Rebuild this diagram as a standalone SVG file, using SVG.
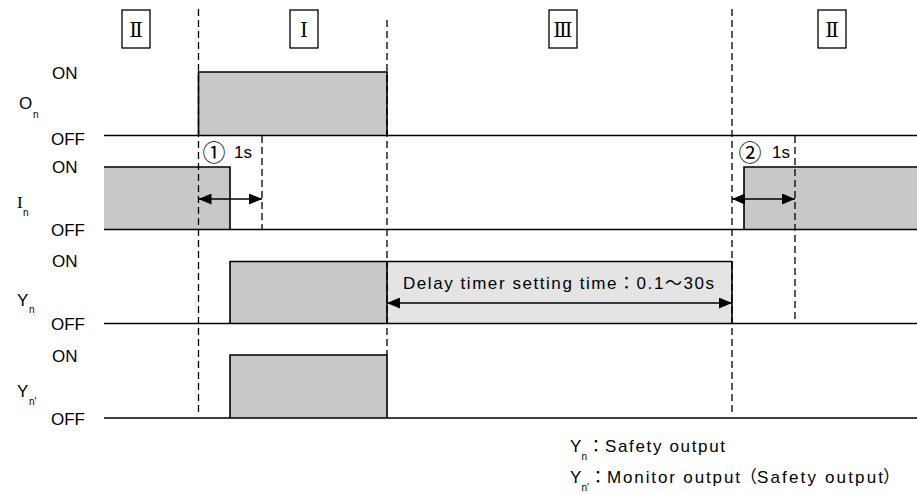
<svg xmlns="http://www.w3.org/2000/svg" width="917" height="494" viewBox="0 0 917 494">
<defs>
<style>
.bg{fill:#ffffff}
.on{fill:#c8c8c8;stroke:none}
.dl{fill:#e4e4e4;stroke:none}
.sig{fill:none;stroke:#000;stroke-width:1.6}
.base{fill:none;stroke:#000;stroke-width:1.6}
.dash{fill:none;stroke:#000;stroke-width:1.3;stroke-dasharray:7 4}
.arr{fill:none;stroke:#000;stroke-width:1.4;marker-start:url(#ah);marker-end:url(#ah)}
.box{fill:#fff;stroke:#000;stroke-width:1.3}
.t{font-family:"Liberation Sans",Arial,sans-serif;font-size:17px;fill:#000}
.lab{font-family:"Liberation Sans",Arial,sans-serif;font-size:17px;fill:#000}
.sub{font-size:10px}
.rom{font-family:"DejaVu Serif","Noto Sans CJK JP",serif;font-size:20px;fill:#000}
.cjk{font-family:"Noto Sans CJK JP",sans-serif}
.circ{font-family:"Noto Sans CJK JP",sans-serif;font-size:23px;fill:#000}
</style>
<marker id="ah" viewBox="0 0 13 11" refX="13" refY="5.5" markerWidth="13" markerHeight="11" markerUnits="userSpaceOnUse" orient="auto-start-reverse">
<path d="M0,0 L13,5.5 L0,11 Z" fill="#000"/>
</marker>
</defs>
<rect class="bg" x="0" y="0" width="917" height="494"/>

<g id="phases">
<g id="phase-II-a"><rect class="box" x="122" y="10" width="28" height="38"/><text class="rom" x="136" y="37" text-anchor="middle">Ⅱ</text></g>
<g id="phase-I"><rect class="box" x="290" y="10" width="28" height="38"/><text class="rom" x="304" y="37" text-anchor="middle">Ⅰ</text></g>
<g id="phase-III"><rect class="box" x="549" y="10" width="28" height="38"/><text class="rom" x="563" y="37" text-anchor="middle">Ⅲ</text></g>
<g id="phase-II-b"><rect class="box" x="818" y="10" width="28" height="38"/><text class="rom" x="832" y="37" text-anchor="middle">Ⅱ</text></g>
</g>

<g id="fills">
<rect class="on" x="198.5" y="72" width="188.5" height="63.5"/>
<rect class="on" x="104" y="167" width="126" height="62.5"/>
<rect class="on" x="744" y="167" width="173" height="62.5"/>
<rect class="on" x="230" y="261.5" width="157" height="62"/>
<rect class="dl" x="387" y="261.5" width="345" height="62"/>
<rect class="on" x="230" y="355" width="157" height="63"/>
</g>

<g id="connectors">
<line class="dash" x1="198.5" y1="9" x2="198.5" y2="416"/>
<line class="dash" x1="387" y1="20" x2="387" y2="355"/>
<line class="dash" x1="732" y1="9" x2="732" y2="416"/>
<line class="dash" x1="262" y1="136" x2="262" y2="229"/>
<line class="dash" x1="795" y1="136" x2="795" y2="323"/>
<line class="arr" x1="198.5" y1="199" x2="262" y2="199"/>
<line class="arr" x1="732" y1="199" x2="795" y2="199"/>
<line class="arr" x1="387" y1="303" x2="732" y2="303"/>
</g>

<g id="row-On">
<line class="base" x1="104" y1="135.5" x2="917" y2="135.5"/>
<polyline class="sig" points="198.5,135.5 198.5,72 387,72 387,135.5"/>
<text class="t" x="52" y="79">ON</text>
<text class="t" x="51" y="145">OFF</text>
<text class="lab" x="19" y="109">O<tspan class="sub" x="33" y="118">n</tspan></text>
</g>

<g id="row-In">
<line class="base" x1="104" y1="229.5" x2="917" y2="229.5"/>
<polyline class="sig" points="104,167 230,167 230,229.5"/>
<polyline class="sig" points="744,229.5 744,167 917,167"/>
<text class="t" x="52" y="173">ON</text>
<text class="t" x="51" y="236">OFF</text>
<text class="lab" x="17" y="208"><tspan style="font-family:'Liberation Serif',serif">I</tspan><tspan class="sub" x="23" y="216">n</tspan></text>
<text class="circ" x="214" y="161" text-anchor="middle">①</text>
<text class="t" x="234" y="158">1s</text>
<text class="circ" x="750" y="161" text-anchor="middle">②</text>
<text class="t" x="772" y="158">1s</text>
</g>

<g id="row-Yn">
<line class="base" x1="104" y1="323.5" x2="917" y2="323.5"/>
<polyline class="sig" points="230,323.5 230,261.5 732,261.5 732,323.5"/>
<line class="sig" x1="387" y1="261.5" x2="387" y2="323.5"/>
<text class="t" x="52" y="267">ON</text>
<text class="t" x="51" y="330">OFF</text>
<text class="lab" x="17" y="306">Y<tspan class="sub" x="29" y="313">n</tspan></text>
<text class="t" x="403" y="289" textLength="311" lengthAdjust="spacing">Delay timer setting time<tspan class="cjk">：</tspan>0.1<tspan class="cjk">～</tspan>30s</text>
</g>

<g id="row-Yn-prime">
<line class="base" x1="104" y1="418" x2="917" y2="418"/>
<polyline class="sig" points="230,418 230,355 387,355 387,418"/>
<text class="t" x="52" y="362">ON</text>
<text class="t" x="51" y="425">OFF</text>
<text class="lab" x="17" y="397">Y<tspan class="sub" x="29" y="405">n'</tspan></text>
</g>

<g id="legend">
<text class="lab" x="570" y="452">Y<tspan class="sub" x="581.5" y="460">n</tspan><tspan class="cjk" x="587.5" y="452">：</tspan><tspan x="605" textLength="120" lengthAdjust="spacing">Safety output</tspan></text>
<text class="lab" x="570" y="483">Y<tspan class="sub" x="581.5" y="491">n'</tspan><tspan class="cjk" x="589.5" y="483">：</tspan><tspan x="607" textLength="133" lengthAdjust="spacing">Monitor output</tspan><tspan class="cjk" x="740">（</tspan><tspan x="757" textLength="126" lengthAdjust="spacing">Safety output</tspan><tspan class="cjk" x="883">）</tspan></text>
</g>
</svg>
